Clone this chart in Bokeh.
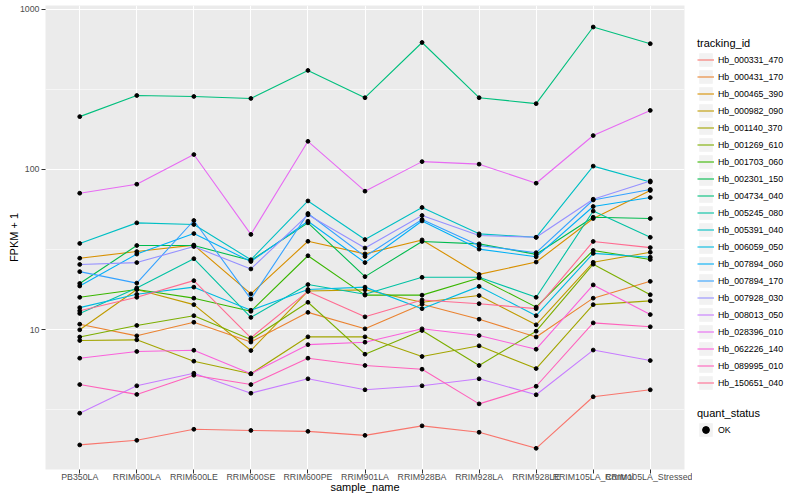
from bokeh.plotting import figure
from bokeh.layouts import row
from bokeh.models import (FactorRange, Range1d, FixedTicker, NumeralTickFormatter,
                          Legend, LegendItem)
from bokeh.embed import file_html
from bokeh.resources import INLINE

samples = ["PB350LA", "RRIM600LA", "RRIM600LE", "RRIM600SE", "RRIM600PE", "RRIM901LA",
           "RRIM928BA", "RRIM928LA", "RRIM928LE", "RRIM105LA_Control", "RRIM105LA_Stressed"]

tracking_ids = ["Hb_000331_470", "Hb_000431_170", "Hb_000465_390", "Hb_000982_090",
                "Hb_001140_370", "Hb_001269_610", "Hb_001703_060", "Hb_002301_150",
                "Hb_004734_040", "Hb_005245_080", "Hb_005391_040", "Hb_006059_050",
                "Hb_007894_060", "Hb_007894_170", "Hb_007928_030", "Hb_008013_050",
                "Hb_028396_010", "Hb_062226_140", "Hb_089995_010", "Hb_150651_040"]

# FPKM + 1 values per gene, one value per sample
Hb_000331_470 = [1.90, 2.03, 2.38, 2.34, 2.31, 2.18, 2.50, 2.28, 1.81, 3.80, 4.20]
Hb_000431_170 = [10.8, 9.13, 11.1, 8.35, 12.8, 10.1, 14.4, 11.6, 8.98, 15.7, 20.0]
Hb_000465_390 = [27.9, 30.7, 33.7, 16.7, 35.6, 29.7, 36.3, 22.1, 26.4, 49.4, 73.9]
Hb_000982_090 = [9.96, 17.8, 14.3, 7.39, 17.4, 17.7, 14.8, 16.3, 10.7, 26.3, 30.4]
Hb_001140_370 = [8.54, 8.62, 6.34, 5.29, 9.00, 9.00, 6.78, 7.91, 5.70, 14.3, 15.1]
Hb_001269_610 = [8.98, 10.6, 12.2, 8.66, 14.8, 7.01, 9.86, 5.96, 9.76, 25.6, 16.5]
Hb_001703_060 = [15.9, 17.8, 15.7, 13.0, 28.9, 16.4, 16.4, 21.0, 13.8, 31.2, 27.4]
Hb_002301_150 = [19.4, 33.5, 33.5, 27.0, 46.4, 21.4, 35.5, 34.3, 29.5, 50.3, 49.4]
Hb_004734_040 = [214, 290, 286, 278, 416, 281, 622, 281, 258, 777, 611]
Hb_005245_080 = [12.6, 18.2, 27.7, 11.9, 19.1, 16.6, 21.2, 21.2, 15.9, 55.0, 37.7]
Hb_005391_040 = [34.5, 46.4, 45.3, 27.3, 63.6, 36.5, 57.9, 39.6, 37.7, 105, 83.5]
Hb_006059_050 = [13.7, 16.6, 18.4, 13.2, 17.8, 18.4, 13.5, 18.6, 12.2, 29.9, 28.3]
Hb_007894_060 = [18.7, 29.6, 39.8, 26.6, 47.5, 26.2, 47.7, 31.8, 28.5, 58.7, 66.8]
Hb_007894_170 = [23.0, 19.5, 48.0, 15.5, 53.1, 28.6, 48.7, 33.5, 30.2, 64.5, 75.0]
Hb_007928_030 = [25.5, 26.2, 33.0, 23.9, 52.1, 32.3, 51.6, 38.7, 37.7, 65.2, 84.8]
Hb_008013_050 = [3.00, 4.45, 5.33, 4.00, 4.92, 4.20, 4.45, 4.92, 3.91, 7.44, 6.40]
Hb_028396_010 = [71.1, 80.9, 124, 39.3, 150, 73.2, 112, 108, 82.1, 163, 234]
Hb_062226_140 = [6.62, 7.29, 7.42, 5.29, 8.04, 8.33, 10.1, 9.17, 7.53, 19.0, 12.4]
Hb_089995_010 = [4.53, 3.93, 5.18, 4.53, 6.62, 5.96, 5.65, 3.43, 4.42, 11.0, 10.4]
Hb_150651_040 = [13.1, 15.9, 20.2, 8.87, 17.3, 12.0, 15.3, 14.5, 13.5, 35.5, 32.5]

quant_status = ["OK"]

y_major_ticks = [10, 100, 1000]
y_minor_ticks = [3.162, 31.62, 316.2]

series_values = [Hb_000331_470, Hb_000431_170, Hb_000465_390, Hb_000982_090,
                 Hb_001140_370, Hb_001269_610, Hb_001703_060, Hb_002301_150,
                 Hb_004734_040, Hb_005245_080, Hb_005391_040, Hb_006059_050,
                 Hb_007894_060, Hb_007894_170, Hb_007928_030, Hb_008013_050,
                 Hb_028396_010, Hb_062226_140, Hb_089995_010, Hb_150651_040]

palette = ["#F8766D", "#EA8331", "#D89000", "#C09B00", "#A3A500", "#7CAE00", "#39B600",
           "#00BB4E", "#00BF7D", "#00C1A3", "#00BFC4", "#00BAE0", "#00B0F6", "#35A2FF",
           "#9590FF", "#C77CFF", "#E76BF3", "#FA62DB", "#FF62BC", "#FF6C91"]

FONT = "Liberation Sans"

p = figure(x_range=FactorRange(factors=samples, range_padding=0.1, range_padding_units="absolute"),
           y_range=Range1d(1.334, 1059), y_axis_type="log",
           frame_width=639, frame_height=464,
           min_border_left=45, min_border_right=8, min_border_top=5, min_border_bottom=30,
           output_backend="svg", toolbar_location=None,
           background_fill_color="#EBEBEB", border_fill_color="white", outline_line_color=None)

# grid
p.xgrid.grid_line_color = "white"
p.xgrid.grid_line_width = 1.1
p.ygrid.ticker = FixedTicker(ticks=y_major_ticks, minor_ticks=y_minor_ticks)
p.ygrid.grid_line_color = "white"
p.ygrid.grid_line_width = 1.1
p.ygrid.minor_grid_line_color = "white"
p.ygrid.minor_grid_line_width = 0.55

# axes
for ax in (p.xaxis[0], p.yaxis[0]):
    ax.axis_line_color = None
    ax.major_tick_out = 4
    ax.major_tick_in = 0
    ax.minor_tick_line_color = None
    ax.major_tick_line_color = "#333333"
    ax.major_tick_line_width = 1
    ax.major_label_text_font = FONT
    ax.major_label_text_font_size = "8.8px"
    ax.major_label_text_color = "#4D4D4D"
    ax.axis_label_text_font = FONT
    ax.axis_label_text_font_size = "11px"
    ax.axis_label_text_font_style = "normal"
    ax.axis_label_text_color = "black"

p.xaxis.axis_label = "sample_name"
p.xaxis.major_label_standoff = -2
p.xaxis.axis_label_standoff = -4
p.yaxis.axis_label = "FPKM + 1"
p.yaxis.ticker = FixedTicker(ticks=y_major_ticks, minor_ticks=[])
p.yaxis.formatter = NumeralTickFormatter(format="0")
p.yaxis.major_label_standoff = 2
p.yaxis.axis_label_standoff = -3

# lines
for vals, col in zip(series_values, palette):
    p.line(x=samples, y=vals, line_color=col, line_width=1.1)

# points (quant_status = OK)
xs, ys = [], []
for vals in series_values:
    xs.extend(samples)
    ys.extend(vals)
p.scatter(x=xs, y=ys, size=3.8, color="black", marker="circle")

# ---- legend panel (separate figure to the right) ----
lf = figure(width=108, height=499, x_range=Range1d(0, 1), y_range=Range1d(0, 1),
            min_border=0, output_backend="svg", toolbar_location=None,
            x_axis_location=None, y_axis_location=None, outline_line_color=None,
            background_fill_color="white", border_fill_color="white")
lf.grid.visible = False

# legend-only renderers placed outside the visible range
key_bg = lf.quad(left=[5], right=[6], bottom=[5], top=[6], fill_color="#F2F2F2", line_color=None)
key_lines = [lf.line(x=[5, 6], y=[5, 5], line_color=col, line_width=1.1) for col in palette]
ok_pt = lf.scatter(x=[5], y=[5], size=4, color="black", marker="circle")


def style_legend(lg):
    lg.margin = 0
    lg.padding = 0
    lg.spacing = 0
    lg.glyph_height = 17
    lg.glyph_width = 17
    lg.label_height = 17
    lg.label_standoff = 4
    lg.label_text_font = FONT
    lg.label_text_font_size = "8.8px"
    lg.label_text_color = "black"
    lg.title_text_font = FONT
    lg.title_text_font_size = "11px"
    lg.title_text_font_style = "normal"
    lg.title_text_color = "black"
    lg.title_standoff = 2
    lg.background_fill_alpha = 0
    lg.border_line_alpha = 0


items = [LegendItem(label=tid, renderers=[key_bg, r]) for tid, r in zip(tracking_ids, key_lines)]
leg1 = Legend(items=items, title="tracking_id", location=(5, 78))
style_legend(leg1)
lf.add_layout(leg1, "center")

leg2 = Legend(items=[LegendItem(label=quant_status[0], renderers=[key_bg, ok_pt])],
              title="quant_status", location=(5, 31))
style_legend(leg2)
lf.add_layout(leg2, "center")

layout = row(p, lf)
open("out.html", "w").write(file_html(layout, INLINE))
